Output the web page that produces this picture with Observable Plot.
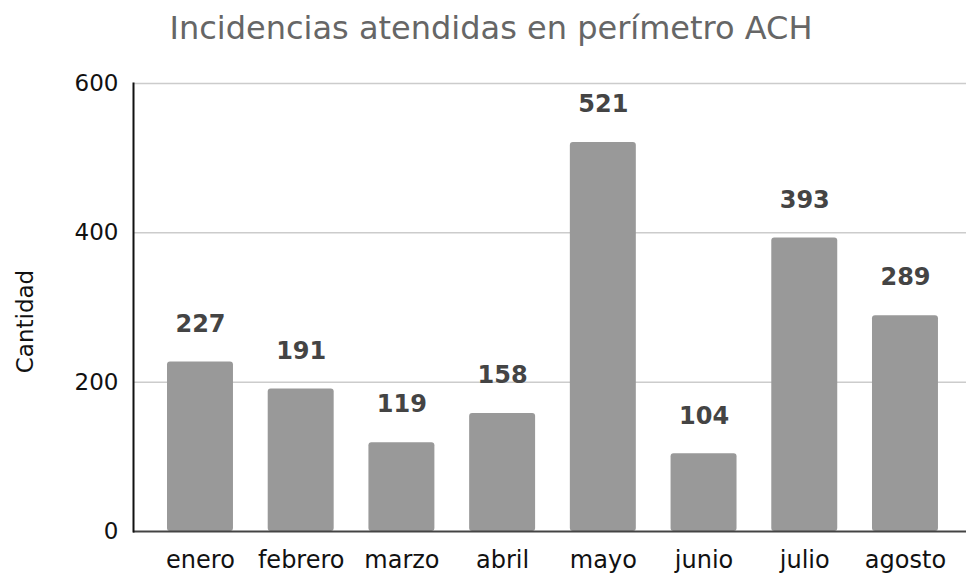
<!DOCTYPE html>
<html>
<head>
<meta charset="utf-8">
<script src="https://cdn.jsdelivr.net/npm/d3@7"></script>
<script src="https://cdn.jsdelivr.net/npm/@observablehq/plot@0.6"></script>
<style>
  html, body { margin: 0; padding: 0; background: #fff; }
  #title { font-family: "DejaVu Sans", Verdana, sans-serif; font-size: 32px; color: #666; text-align: center; height: 60px; line-height: 56px; width: 950px; padding-left: 16px; }
  #chart svg { display: block; }
</style>
</head>
<body>
<div id="title">Incidencias atendidas en perímetro ACH</div>
<div id="chart"></div>
<script>
const months = ["enero", "febrero", "marzo", "abril", "mayo", "junio", "julio", "agosto"];
const values = [227, 191, 119, 158, 521, 104, 393, 289];
const yTicks = [0, 200, 400, 600];
const yLabel = "Cantidad";

const data = months.map((m, i) => ({month: m, value: values[i]}));

const chart = Plot.plot({
  width: 966,
  height: 514,
  marginTop: 23,
  marginBottom: 43,
  marginLeft: 133,
  marginRight: 0,
  style: {fontFamily: "'DejaVu Sans', Verdana, sans-serif", fontSize: "23px", color: "#111", background: "#fff"},
  x: {domain: months, paddingInner: 0.345, paddingOuter: 0.308, align: 0.548, round: false, label: null},
  y: {domain: [0, 600], label: null},
  marks: [
    Plot.ruleY(yTicks.filter(d => d > 0), {stroke: "#ccc", strokeWidth: 1.5}),
    Plot.barY(data, {x: "month", y: "value", fill: "#999999", rx: 3}),
    Plot.ruleY([0], {stroke: "#444", strokeWidth: 2}),
    Plot.frame({anchor: "left", stroke: "#111", strokeWidth: 2}),
    Plot.axisY({ticks: yTicks, tickSize: 0, tickPadding: 15, label: null, fontSize: 23}),
    Plot.axisX({tickSize: 0, tickPadding: 19, label: null, fontSize: 24}),
    Plot.text(data, {x: "month", y: "value", text: d => String(d.value), dy: -38, fill: "#444", fontWeight: "bold", fontSize: 24}),
    Plot.text([yLabel], {frameAnchor: "left", textAnchor: "middle", dx: -108, dy: 14, rotate: -90, fontSize: 23, fill: "#111"})
  ]
});
document.getElementById("chart").appendChild(chart);
</script>
</body>
</html>
